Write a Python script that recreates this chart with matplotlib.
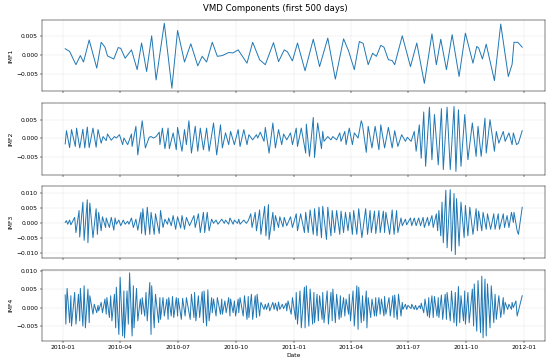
import numpy as np
import pandas as pd
import matplotlib
matplotlib.use("Agg")
import matplotlib.pyplot as plt
import matplotlib.dates as mdates
from pandas.tseries.holiday import USFederalHolidayCalendar
from pandas.tseries.offsets import CustomBusinessDay

# 500 trading days starting 2010-01-04
bday = CustomBusinessDay(calendar=USFederalHolidayCalendar())
dates = pd.date_range("2010-01-04", periods=500, freq=bday)

# turning points: trading-day index, value in 1e-4
imf1_days = [0, 5, 12, 17, 20, 27, 34, 39, 43, 47, 53, 58, 62, 67, 73, 80, 85, 91, 97, 102,
             110, 118, 125, 131, 139, 146, 151, 156, 163, 169, 174, 180, 185, 191, 200, 207, 214, 220, 228, 234,
             241, 244, 249, 254, 261, 270, 278, 286, 294, 303, 309, 316, 322, 326, 332, 337, 341, 346, 349, 353,
             357, 361, 369, 377, 385, 393, 401, 406, 411, 418, 424, 431, 439, 446, 450, 453, 457, 461, 469, 476,
             484, 488, 491, 495, 499]
imf1_vals = [16, 9, -26, -2, -19, 39, -35, 33, 20, -3, -11, 19, 17, -9, 13, -39, 31, -44, 50, -66,
             83, -88, 64, -19, 29, -29, -4, -19, 33, -4, -2, 6, 5, 13, -22, 33, -13, -26, 32, -18,
             13, 8, -16, 31, -42, 41, -31, 44, -64, 42, 10, -39, 35, 30, -26, 4, -4, 25, 20, -13,
             -15, -26, 50, -31, 31, -75, 55, -26, 41, -39, 53, -57, 57, -22, 22, 18, -11, 28, -68, 81,
             -57, -25, 33, 33, 20]

imf2_days = [0, 2, 5, 8, 11, 13, 16, 19, 22, 24, 27, 30, 33, 36, 39, 42, 45, 47, 51, 54,
             57, 60, 63, 65, 69, 73, 74, 78, 81, 86, 89, 93, 96, 98, 102, 104, 105, 107, 111, 114,
             116, 120, 123, 125, 129, 131, 134, 136,
             140, 144, 146, 150, 153, 156, 160, 165, 168, 171, 174, 177, 180, 183, 187, 191, 194, 197, 200, 203,
             207, 211, 213, 215, 218, 220, 224, 227, 231, 234, 237, 240, 243, 246, 249, 252, 254, 258, 262, 263,
             266, 270, 272, 275, 279, 281, 283, 286, 289, 292, 296, 299, 301, 305, 307, 310, 313, 316, 320, 323,
             325, 329,
             332, 336, 339, 343, 346, 350, 353, 357, 361, 364, 368, 372, 375, 378, 381, 384, 387, 390, 392, 395,
             399, 401, 405, 409, 412, 415, 419, 421, 425, 428, 430, 434, 438, 441, 445, 449, 452, 455, 459, 461,
             465, 469, 472, 474, 478, 481, 485, 488, 490, 493, 496, 499]
imf2_vals = [-15, 21, -25, 24, -22, 28, -26, 25, -26, 31, -25, 28, -24, 24, -13, 5, -6, 12, -5, 5,
             1, 10, -17, 1, -17, 12, -22, 33, -45, 48, -26, 3, 5, 1, 5, 17, -17, 28, -28, 28,
             -28, 15, -31, 30, -35, 24, -17, 48,
             -40, 33, -35, 28, -31, 28, -35, 42, -45, 37, -26, 15, -17, 19, -17, 24, -22, 24, -17, 10,
             -4, 10, 1, 17, -8, 30, -40, 42, -26, 24, -17, 12, -4, 15, -17, 28, -22, 28, -40, 39,
             -49, 57, -52, 42, -28, 19, -8, 5, -4, 5, -4, 15, -8, 19, -17, 28, -17, 15, 1, 48,
             37, -38,
             33, -26, 33, -31, 37, -26, 30, -26, 21, -22, 10, -8, 3, -8, 19, -35, 37, -54, 72, -76,
             85, -58, 65, -72, 81, -85, 85, -85, 87, -90, 78, -76, 65, -58, 42, -49, 33, -49, 55, -40,
             51, -35, 19, -13, 19, -8, 15, -17, 15, -17, -13, 21]

imf3_days = [0, 2, 4, 5, 7, 10, 12, 15, 16, 19, 21, 24, 25, 28, 30, 33, 35, 37, 39, 41,
             44, 45, 48, 51, 53, 55, 57, 59, 62, 64, 67, 69, 71, 73, 76, 78, 81, 84, 85, 87,
             89, 92, 94, 96, 99, 101, 104, 106, 108, 111, 113, 115, 117, 120, 122, 125, 127, 129, 131, 134,
             137,
             142, 144, 147, 150, 153, 155, 157, 160, 162, 165, 167, 170, 173, 175, 177, 180, 182, 185, 187, 190,
             192, 194, 197, 199, 202, 204, 206, 209, 211, 214, 216, 219, 221, 223, 224, 227, 229, 231, 234, 236,
             239, 241, 243, 246, 249, 252, 254, 257, 260, 262, 264, 267, 270, 272, 274, 277, 279, 281, 284, 286,
             289, 291, 293, 296, 299, 301, 303, 306, 308, 311, 313, 315, 318, 321, 324,
             328, 331, 333, 335, 338, 340, 343, 345, 348, 350, 352, 355, 357, 360, 362, 364, 367, 369, 372, 374,
             377, 379, 381, 384, 386, 389, 391, 393, 396, 398, 401, 403, 406, 408, 410, 411, 413, 415, 417, 419,
             421, 423, 425, 427, 429, 431, 434, 437, 439, 441, 444, 446, 449, 451, 453, 456, 458, 461, 463, 466,
             468, 470, 473, 475, 478, 480, 482, 485, 487, 490, 491, 494, 496, 499]
imf3_vals = [1, 7, -5, 9, -7, 18, -33, 41, -48, 69, -59, 77, -67, 66, -50, 47, -39, 35, -27, 20,
             -16, 16, -16, 18, -25, 16, -5, 9, -10, 9, -5, 5, -5, 16, -16, 12, -25, 35, -36, 47,
             -41, 52, -39, 35, -39, 30, -36, 41, -16, 12, -5, 16, -10, 24, -22, 20, -18, 24, -22, 18,
             -10,
             24, -16, 30, -33, 35, -33, 35, -27, 12, -2, 9, -5, 12, -2, 9, -5, 16, -5, 9, -2,
             12, -5, 9, -2, 7, 30, -16, 35, -27, 43, -39, 55, -44, 61, -56, 35, -27, 24, -16, 20,
             -14, 18, -10, 20, -16, 30, -27, 30, -33, 35, -33, 43, -39, 47, -44, 52, -50, 55, -56, 52,
             -44, 41, -33, 41, -39, 39, -33, 35, -27, 35, -39, 41, -39, 47, -50,
             47, -39, 41, -33, 39, -36, 41, -33, 39, -33, 35, -39, 43, -39, 41, -33, 16, -10, 12, -7,
             16, -10, 16, -10, 16, -10, 18, -16, 18, -10, 24, -16, 30, -27, 41, -44, 69, -67, 109, -84,
             111, -95, 98, -107, 81, -78, 69, -50, 58, -44, 52, -39, 47, -27, 39, -27, 35, -22, 30, -22,
             30, -22, 30, -22, 30, -16, 24, -16, 35, 1, 35, -27, -39, 52]

imf4_days = [0, 1, 3, 5, 7, 8, 10, 12, 14, 16, 17, 19, 21, 23, 25, 27, 28, 30, 32, 34,
             36, 37, 39, 41, 43, 45, 46, 48, 50, 52, 54, 56, 57, 59, 61, 63, 65, 66, 68, 70,
             72, 74, 76, 77, 79, 81, 83, 85, 86, 88, 90, 92, 94, 96, 97, 99, 101, 103, 105, 106,
             108, 110, 112, 114, 115, 117, 119, 121, 123, 125, 126, 128, 130, 132, 134,
             138, 140, 142, 143, 145, 147, 149, 151, 153, 154, 156, 158, 160, 162, 163, 165, 167, 169, 171, 173,
             174, 176, 178, 180, 182, 183, 185, 187, 189, 191, 192, 194, 196, 198, 200, 202, 203, 205, 207, 209,
             211, 212, 214, 216, 218, 220, 222, 223, 225, 227, 229, 231, 232, 234, 236, 238, 240, 242, 243, 245,
             247, 249, 251, 252, 254, 256, 258, 260, 261, 263, 265, 267, 269, 271, 272, 274, 276, 278, 280, 281,
             283, 285, 287, 289, 291, 292, 294, 296, 298, 300, 301, 303, 305, 307, 309, 310, 312, 314, 316, 318,
             320,
             321, 323, 325, 327, 329, 330, 332, 334, 336, 338, 340, 341, 343, 345, 347, 349, 350, 352, 354, 356,
             358, 360, 361, 363, 365, 367, 369, 370, 372, 374, 376, 378, 379, 381, 383, 385, 387, 389, 390, 392,
             394, 396, 398, 399, 401, 403, 405, 407, 409, 410, 412, 414, 416, 418, 419, 421, 423, 425, 427, 429,
             430, 432, 434, 436, 438, 439, 441, 443, 445, 447, 448, 450, 452, 454, 456, 458, 459, 461, 463, 465,
             467, 468, 470, 472, 474, 476, 478, 479, 481, 483, 485, 487, 488, 490, 492, 494, 499]
imf4_vals = [34, -45, 52, -41, 32, -50, 41, -45, 36, -36, 52, -50, 59, -55, 50, -41, 32, -18, 9, -14,
             6, -9, 14, -14, 23, -18, 27, -27, 32, -36, 36, -55, 55, -73, 82, -77, 45, -82, 45, -45,
             94, -77, 59, -55, 52, -36, 23, -18, 27, -23, 41, -36, 68, -73, 59, -55, 36, -41, 27, -32,
             27, -23, 23, -32, 27, -23, 30, -27, 27, -23, 25, -32, 25, -23, 27,
             -32, 36, -27, 41, -36, 32, -27, 43, -41, 45, -50, 48, -36, 27, -14, 23, -23, 27, -18, 23,
             -18, 18, -14, 27, -23, 23, -14, 18, -23, 23, -14, 27, -23, 32, -32, 30, -27, 36, -32, 32,
             -27, 36, -23, 14, -5, 9, -5, 12, -9, 14, -5, 12, -9, 15, -5, 9, -3, 12, -9, 18,
             -18, 27, -32, 41, -45, 45, -55, 55, -55, 59, -50, 50, -45, 41, -41, 36, -36, 32, -32, 41,
             -41, 45, -45, 41, -36, 50, -41, 36, -32, 32, -27, 27, -23, 23, -18, 36, -36, 45, -50, 59,
             -59,
             55, -41, 32, -36, 45, -55, 27, -27, 23, -23, 27, -23, 27, -18, 23, -23, 30, -18, 27, -23,
             32, -27, 34, -32, 36, -23, 14, -5, 9, -5, 6, -3, 9, -5, 6, -6, 5, -3, 12, -14,
             23, -23, 27, -27, 32, -27, 30, -23, 27, -27, 34, -32, 36, -32, 41, -36, 45, -41, 41, -50,
             57, -41, 32, -36, 45, -45, 41, -41, 50, -50, 64, -64, 73, -68, 85, -82, 77, -77, 64, -55,
             59, -41, 36, -32, 32, -27, 27, -18, 14, -5, 9, -5, 14, 0, 18, -23, 32]

names = ["IMF1", "IMF2", "IMF3", "IMF4"]
all_days = [imf1_days, imf2_days, imf3_days, imf4_days]
all_vals = [imf1_vals, imf2_vals, imf3_vals, imf4_vals]

width_in = 12.6
dpi = 550 / width_in
fig, axes = plt.subplots(4, 1, figsize=(width_in, 364 / dpi), dpi=dpi, sharex=True)

for ax, d, v, name in zip(axes, all_days, all_vals, names):
    ax.plot(dates[d], np.array(v) * 1e-4, color="#1f77b4", lw=1.6)
    ax.set_ylabel(name)
    ax.grid(True, alpha=0.3)

axes[-1].set_xlabel("Date")
axes[-1].xaxis.set_major_locator(mdates.MonthLocator(bymonth=[1, 4, 7, 10]))
axes[-1].xaxis.set_major_formatter(mdates.DateFormatter("%Y-%m"))

fig.suptitle("VMD Components (first 500 days)", fontsize=14, y=0.978, va="center")
fig.subplots_adjust(left=0.077, right=0.991, top=0.945, bottom=0.063, hspace=0.164)
fig.align_ylabels(axes)

fig.savefig("out.png", dpi=dpi)
